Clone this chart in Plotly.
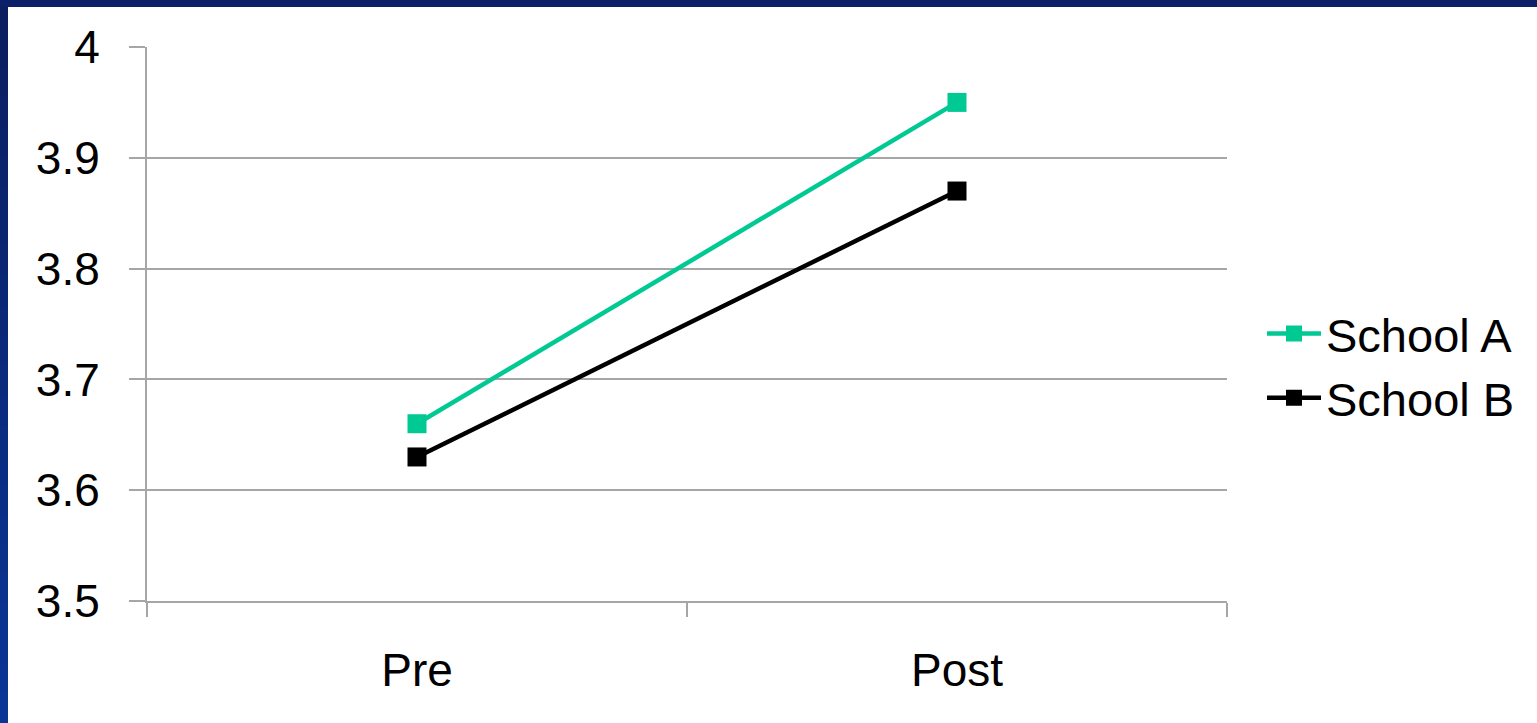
import plotly.graph_objects as go

categories = ["Pre", "Post"]
school_a = [3.66, 3.95]
school_b = [3.63, 3.87]
y_ticks = [3.5, 3.6, 3.7, 3.8, 3.9, 4.0]
y_tick_labels = ["3.5", "3.6", "3.7", "3.8", "3.9", "4"]

W, H = 1537, 723
L, R, T, B = 147, 310, 47, 122
PW, PH = W - L - R, H - T - B

FONT = "Liberation Sans, Arial, sans-serif"
GRID = "#a6a6a6"

fig = go.Figure()
fig.add_trace(go.Scatter(
    x=categories, y=school_a, name="School A", mode="lines+markers",
    line=dict(color="#00c994", width=4.5),
    marker=dict(symbol="square", size=19, color="#00c994"),
))
fig.add_trace(go.Scatter(
    x=categories, y=school_b, name="School B", mode="lines+markers",
    line=dict(color="#000000", width=4.5),
    marker=dict(symbol="square", size=19, color="#000000"),
))

shapes = []
def px_x(x):
    return (x - L) / PW
def px_y(y):
    return (H - B - y) / PH

shapes.append(dict(type="rect", xref="paper", yref="paper", layer="above",
                   x0=px_x(0), x1=px_x(W), y0=px_y(7), y1=px_y(0),
                   fillcolor="#0b2068", line=dict(width=0)))
n = 24
c0 = (10, 30, 96)
c1 = (10, 53, 150)
for i in range(n):
    t = i / (n - 1)
    col = "rgb(%d,%d,%d)" % tuple(round(a + (b - a) * t) for a, b in zip(c0, c1))
    y0 = 7 + (H - 7) * i / n
    y1 = 7 + (H - 7) * (i + 1) / n
    shapes.append(dict(type="rect", xref="paper", yref="paper", layer="above",
                       x0=px_x(0), x1=px_x(8), y0=px_y(y1 + 1), y1=px_y(y0),
                       fillcolor=col, line=dict(width=0)))

fig.update_layout(
    width=W, height=H,
    margin=dict(l=L, r=R, t=T, b=B, pad=0),
    paper_bgcolor="white", plot_bgcolor="white",
    font=dict(family=FONT, size=46, color="black"),
    showlegend=True,
    legend=dict(x=(1262 - L) / PW, xanchor="left", y=px_y(366), yanchor="middle",
                font=dict(size=47, family=FONT), itemwidth=54,
                bgcolor="rgba(0,0,0,0)", tracegroupgap=0),
    shapes=shapes,
    xaxis=dict(
        type="category", range=[-0.5, 1.5], showgrid=False,
        showline=True, linecolor=GRID, linewidth=2,
        ticks="outside", ticklen=14, tickcolor=GRID, tickwidth=2,
        tickson="boundaries", tickfont=dict(size=46, family=FONT),
        ticklabelstandoff=28,
    ),
    yaxis=dict(
        range=[3.5, 4.0], tickvals=y_ticks, ticktext=y_tick_labels,
        showgrid=True, gridcolor=GRID, gridwidth=1.5,
        showline=True, linecolor=GRID, linewidth=2,
        ticks="outside", ticklen=16, tickcolor=GRID, tickwidth=1.5,
        tickfont=dict(size=46, family=FONT), ticklabelstandoff=20,
        zeroline=False,
    ),
)

fig.write_html(
    "out.html",
    config={"displayModeBar": False},
    post_script="document.body.style.margin='0';document.body.style.overflow='hidden';",
)
